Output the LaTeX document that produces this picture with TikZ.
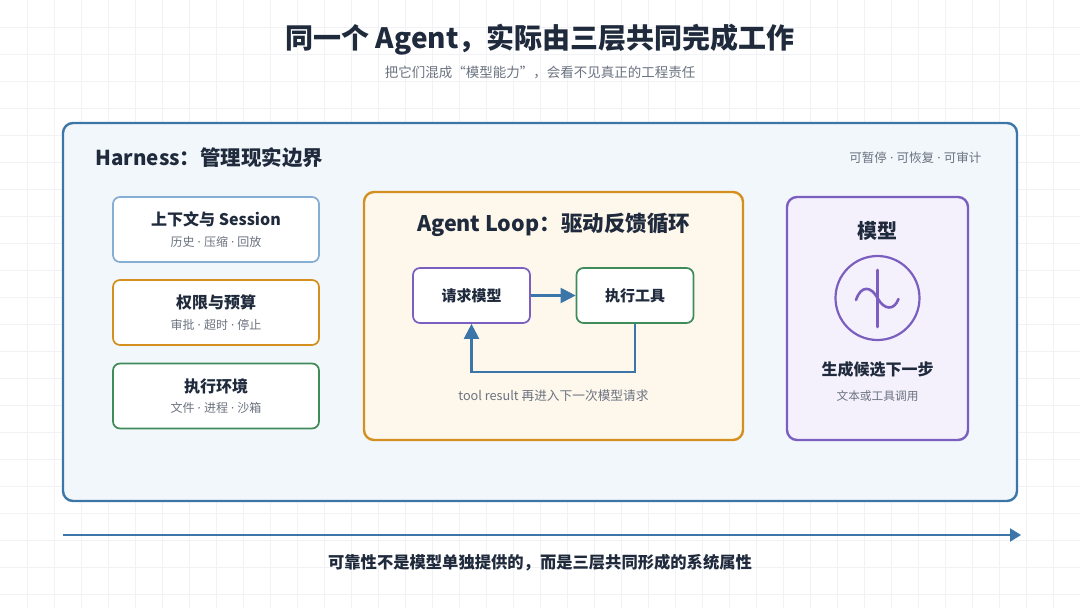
\documentclass[tikz,border=0pt]{standalone}
\usepackage{fontspec}
\setmainfont{Noto Sans CJK SC}
\newfontfamily\latin{Noto Sans}
\newcommand{\sepdot}{{\latin\ ·\ }}
\usetikzlibrary{arrows.meta}
\definecolor{gridc}{HTML}{F1F2F5}
\definecolor{ink}{HTML}{1F2A3C}
\definecolor{muted}{HTML}{6B7280}
\definecolor{blueline}{HTML}{3C75A8}
\definecolor{bluelight}{HTML}{86AED2}
\definecolor{orangeline}{HTML}{D4901E}
\definecolor{greenline}{HTML}{3F8C5A}
\definecolor{purpleline}{HTML}{7B5FC0}
\definecolor{outerfill}{HTML}{F2F7FB}
\definecolor{loopfill}{HTML}{FEF8EC}
\definecolor{modelfill}{HTML}{F5F1FC}
\tikzset{
  panel/.style={draw, rounded corners=10pt, line width=2.4pt},
  card/.style={draw, fill=white, rounded corners=7pt, line width=1.7pt, minimum width=206pt, minimum height=65pt},
  stepbox/.style={draw, fill=white, rounded corners=7pt, line width=1.7pt, minimum width=117pt, minimum height=55pt, font=\bfseries\fontsize{15}{18}\selectfont, text=ink},
  cardtitle/.style={font=\bfseries\fontsize{16}{19}\selectfont, text=ink},
  cardsub/.style={font=\fontsize{12}{14}\selectfont, text=muted},
  flow/.style={draw=blueline, line width=2.2pt, -{Triangle[length=15pt,width=15pt]}},
}
\begin{document}
\begin{tikzpicture}[x=1pt,y=-1pt]
\useasboundingbox (0,0) rectangle (1080,608);
\fill[white] (0,0) rectangle (1080,608);
\foreach \i in {1,...,39} \draw[gridc, line width=0.7pt] (\i*27,0) -- (\i*27,608);
\foreach \j in {1,...,22} \draw[gridc, line width=0.7pt] (0,\j*27) -- (1080,\j*27);

% title
\node[font=\bfseries\fontsize{28}{33}\selectfont, text=ink] (title) at (540,40) {同一个 Agent，实际由三层共同完成工作};
\node[font=\fontsize{13.5}{16}\selectfont, text=muted] (subtitle) at (540,73) {把它们混成“模型能力”，会看不见真正的工程责任};

% outer harness panel
\node[panel, draw=blueline, fill=outerfill, minimum width=954pt, minimum height=378pt] (harness) at (540,312) {};
\node[anchor=west, font=\bfseries\fontsize{20.5}{24}\selectfont, text=ink] (htitle) at (92,158) {Harness：管理现实边界};
\node[anchor=east, font=\fontsize{12.5}{15}\selectfont, text=muted] (htags) at (985,158) {可暂停\sepdot 可恢复\sepdot 可审计};

% left cards
\node[card, draw=bluelight] (ctx) at (216,229.5) {};
\node[cardtitle] (ctxt) at (216,219) {上下文与 Session};
\node[cardsub] (ctxs) at (216,242) {历史\sepdot 压缩\sepdot 回放};

\node[card, draw=orangeline] (perm) at (216,312.5) {};
\node[cardtitle] (permt) at (216,302) {权限与预算};
\node[cardsub] (perms) at (216,325) {审批\sepdot 超时\sepdot 停止};

\node[card, draw=greenline] (env) at (216,396) {};
\node[cardtitle] (envt) at (216,386) {执行环境};
\node[cardsub] (envs) at (216,408) {文件\sepdot 进程\sepdot 沙箱};

% agent loop
\node[panel, draw=orangeline, fill=loopfill, minimum width=379pt, minimum height=248pt] (loop) at (553.5,316) {};
\node[font=\bfseries\fontsize{21.5}{25}\selectfont, text=ink] (looptitle) at (553.5,225) {Agent Loop：驱动反馈循环};
\node[stepbox, draw=purpleline] (req) at (471.5,295.5) {请求模型};
\node[stepbox, draw=greenline] (tool) at (635,295.5) {执行工具};
\draw[flow] (req.east) -- (tool.west);
\draw[flow] (tool.south) -- ++(0,48) -| (req.south);
\node[font=\fontsize{12.7}{15}\selectfont, text=muted] (loopnote) at (553.5,396) {tool result 再进入下一次模型请求};

% model
\node[panel, draw=purpleline, fill=modelfill, minimum width=181pt, minimum height=243pt] (model) at (877.5,318.5) {};
\node[font=\bfseries\fontsize{20}{24}\selectfont, text=ink] (modelt) at (877.5,231) {模型};
\node[circle, draw=purpleline, line width=2.2pt, minimum size=84pt] (icon) at (877.5,298) {};
\draw[purpleline, line width=2.6pt, line cap=round] (877.5,270) -- (877.5,327);
\draw[purpleline, line width=2.6pt, line cap=round] (856,300) .. controls (861,285) and (871,286) .. (877.5,298) .. controls (884,310) and (894,311) .. (898.5,299);
\node[font=\bfseries\fontsize{16}{19}\selectfont, text=ink] (models) at (877.5,369) {生成候选下一步};
\node[font=\fontsize{11.7}{14}\selectfont, text=muted] (modeln) at (877.5,396) {文本或工具调用};

% bottom axis
\coordinate (axs) at (63,535);
\coordinate (axe) at (1021,535);
\draw[draw=blueline, line width=2.2pt, -{Triangle[length=11pt,width=13pt]}] (axs) -- (axe);
\node[font=\bfseries\fontsize{16.3}{19}\selectfont, text=ink] (bottom) at (540,563) {可靠性不是模型单独提供的，而是三层共同形成的系统属性};
\end{tikzpicture}
\end{document}
